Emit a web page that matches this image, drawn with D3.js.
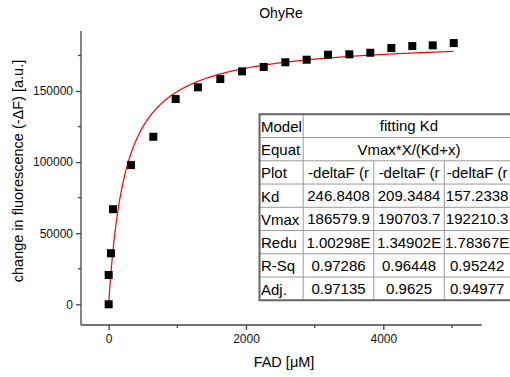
<!DOCTYPE html>
<html><head><meta charset="utf-8">
<script src="https://cdn.jsdelivr.net/npm/d3@7"></script>
<style>body{margin:0;background:#fff}svg{display:block}text{font-family:"Liberation Sans",Arial,sans-serif}</style>
</head><body><svg id="c" width="510" height="377"></svg>
<script>
const fadX = [0, 0, 33, 63, 325, 650, 976, 1300, 1626, 1942, 2258, 2573, 2884, 3195, 3505, 3811, 4117, 4422, 4720, 5026];
const deltaF = [0, 20600, 35900, 66900, 97900, 117800, 144400, 152600, 158400, 163800, 166900, 170200, 172000, 175500, 175800, 176900, 180200, 181600, 182100, 183700];
const fitKd = 246.8408, fitVmax = 186579.9;
const xTicks = [0, 2000, 4000], xMinor = [1000, 3000, 5000];
const yTicks = [0, 50000, 100000, 150000], yMinor = [25000, 75000, 125000, 175000];
const tableRows = [
  ["Model", "fitting Kd"],
  ["Equat", "Vmax*X/(Kd+x)"],
  ["Plot", "-deltaF (r", "-deltaF (r", "-deltaF (r"],
  ["Kd", "246.8408", "209.3484", "157.2338"],
  ["Vmax", "186579.9", "190703.7", "192210.3"],
  ["Redu", "1.00298E", "1.34902E", "1.78367E"],
  ["R-Sq", "0.97286", "0.96448", "0.95242"],
  ["Adj.", "0.97135", "0.9625", "0.94977"]
];

const svg = d3.select("#c");
const x = d3.scaleLinear().domain([-403, 5433]).range([81, 481.7]);
const y = d3.scaleLinear().domain([0, 150000]).range([304.3, 91]);
const yBot = 325, yTop = 31;

// axes
const gx = svg.append("g").attr("transform", `translate(0,${yBot})`)
  .call(d3.axisBottom(x).tickValues(xTicks).tickFormat(d3.format("d")).tickSize(5).tickSizeOuter(0).tickPadding(4));
gx.append("g").selectAll("line").data(xMinor).join("line")
  .attr("x1", d => x(d)).attr("x2", d => x(d)).attr("y1", 0).attr("y2", 3);
const gy = svg.append("g").attr("transform", `translate(81,0)`)
  .call(d3.axisLeft(y).tickValues(yTicks).tickFormat(d3.format("d")).tickSize(5).tickSizeOuter(0).tickPadding(3));
gy.append("g").selectAll("line").data(yMinor).join("line")
  .attr("y1", d => y(d)).attr("y2", d => y(d)).attr("x1", 0).attr("x2", -3);
gx.select(".domain").attr("d", `M81,0H481.7`);
gy.select(".domain").attr("d", `M0,${yTop}V${yBot}`);
[gx, gy].forEach(g => {
  g.selectAll(".domain, line").attr("stroke", "#444").attr("stroke-width", 1.3);
  g.selectAll("text").attr("font-size", 12).attr("fill", "#111").attr("font-family", '"Liberation Sans",Arial,sans-serif');
});

// fit curve
const curveX = d3.range(0, 5021, 10);
svg.append("path").datum(curveX)
  .attr("fill", "none").attr("stroke", "#ff0000").attr("stroke-width", 1.2)
  .attr("d", d3.line().x(d => x(d)).y(d => y(fitVmax * d / (fitKd + d))));

// points
svg.append("g").selectAll("rect").data(fadX.map((v, i) => [v, deltaF[i]])).join("rect")
  .attr("x", d => x(d[0]) - 4).attr("y", d => y(d[1]) - 4)
  .attr("width", 8).attr("height", 8).attr("fill", "#000");

// labels
svg.append("text").attr("x", 281).attr("y", 18).attr("text-anchor", "middle").attr("font-size", 14).text("OhyRe");
svg.append("text").attr("x", 284).attr("y", 367).attr("text-anchor", "middle").attr("font-size", 14.5).text("FAD [μM]");
svg.append("text").attr("transform", "translate(23,171) rotate(-90)").attr("text-anchor", "middle").attr("font-size", 14.5)
  .text("change in fluorescence (-ΔF) [a.u.]");

// table
const colX = [259.5, 303.2, 373.8, 444.3, 510];
const rowH = 23.25, tTop = 114.3;
const fs = 15;
const tg = svg.append("g");
tg.append("rect").attr("x", colX[0]).attr("y", tTop).attr("width", 520 - colX[0]).attr("height", rowH * tableRows.length).attr("fill", "#fff");
tableRows.forEach((r, i) => {
  const yy = tTop + i * rowH;
  if (i > 0) tg.append("line").attr("x1", colX[0]).attr("x2", 520).attr("y1", yy).attr("y2", yy).attr("stroke", "#999").attr("stroke-width", 1);
  tg.append("text").attr("x", colX[0] + 1.5).attr("y", yy + 17.5).attr("font-size", fs).text(r[0]);
  if (r.length === 2) {
    tg.append("text").attr("x", 409).attr("y", yy + 17).attr("text-anchor", "middle").attr("font-size", fs).text(r[1]);
  } else {
    for (let c = 1; c < 4; c++) {
      tg.append("text").attr("x", (colX[c] + colX[c + 1]) / 2 + (c === 3 ? 0 : 0)).attr("y", yy + 17).attr("text-anchor", "middle").attr("font-size", fs).text(r[c]);
      if (c > 1) tg.append("line").attr("x1", colX[c]).attr("x2", colX[c]).attr("y1", yy).attr("y2", yy + rowH).attr("stroke", "#999");
    }
  }
});
tg.append("line").attr("x1", colX[1]).attr("x2", colX[1]).attr("y1", tTop).attr("y2", tTop + rowH * tableRows.length).attr("stroke", "#999");
tg.append("path").attr("d", `M520,${tTop}H${colX[0]}V${tTop + rowH * tableRows.length}H520`)
  .attr("fill", "none").attr("stroke", "#666").attr("stroke-width", 2);
</script></body></html>
